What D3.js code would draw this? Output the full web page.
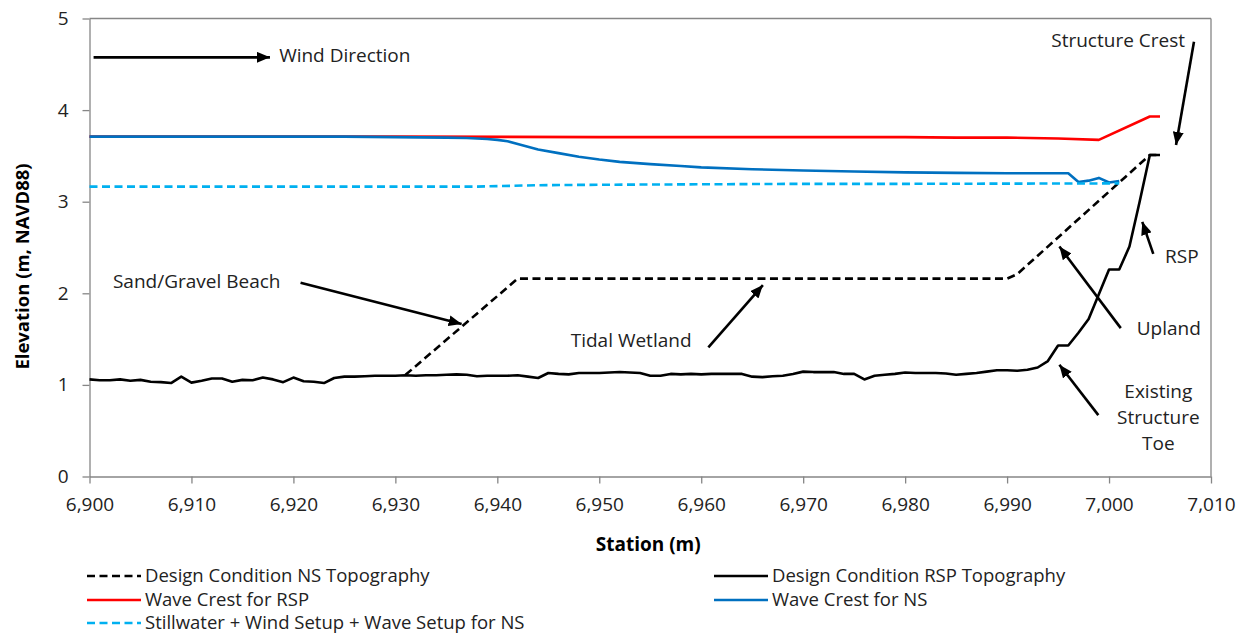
<!DOCTYPE html>
<html>
<head>
<meta charset="utf-8">
<script src="https://cdn.jsdelivr.net/npm/d3@7"></script>
<style>
  body { margin: 0; background: #fff; }
  text { font-family: "Open Sans", sans-serif; }
</style>
</head>
<body>
<div id="chart"></div>
<script>
// station grid of the surveyed RSP profile (every metre)
var rspStation = d3.range(6900, 7006);
var rspElev = [
  1.06, 1.05, 1.05, 1.06, 1.045, 1.055, 1.035, 1.03, 1.02, 1.09,
  1.025, 1.045, 1.07, 1.07, 1.035, 1.055, 1.05, 1.08, 1.06, 1.03,
  1.08, 1.04, 1.035, 1.02, 1.075, 1.09, 1.09, 1.095, 1.10, 1.10,
  1.10, 1.105, 1.10, 1.105, 1.105, 1.11, 1.115, 1.11, 1.095, 1.10,
  1.10, 1.10, 1.105, 1.09, 1.075, 1.13, 1.12, 1.115, 1.13, 1.13,
  1.13, 1.135, 1.14, 1.135, 1.13, 1.10, 1.10, 1.12, 1.115, 1.12,
  1.115, 1.12, 1.12, 1.12, 1.12, 1.09, 1.085, 1.095, 1.10, 1.12,
  1.145, 1.14, 1.14, 1.14, 1.12, 1.12, 1.06, 1.10, 1.11, 1.12,
  1.135, 1.13, 1.13, 1.13, 1.125, 1.11, 1.12, 1.13, 1.145, 1.16,
  1.16, 1.155, 1.165, 1.19, 1.26, 1.43, 1.43, 1.57, 1.72, 1.99,
  2.26, 2.26, 2.51, 3.0, 3.51, 3.51
];

var nsStation = [6931, 6942, 6990, 6991, 7004, 7005];
var nsElev = [1.11, 2.16, 2.16, 2.21, 3.51, 3.51];

var crestRspStation = [6900, 6930, 6950, 6960, 6980, 6985, 6990, 6995, 6999, 7004, 7005];
var crestRspElev = [3.71, 3.71, 3.705, 3.705, 3.705, 3.70, 3.70, 3.69, 3.675, 3.93, 3.93];

var crestNsStation = [6900, 6925, 6930, 6935, 6937, 6939, 6940, 6941, 6942, 6943, 6944, 6946, 6948,
  6950, 6952, 6955, 6958, 6960, 6965, 6970, 6975, 6980, 6985, 6990, 6996, 6997, 6998, 6999, 7000, 7001];
var crestNsElev = [3.71, 3.71, 3.705, 3.70, 3.695, 3.685, 3.675, 3.66, 3.63, 3.60, 3.57, 3.53, 3.49,
  3.46, 3.435, 3.41, 3.39, 3.375, 3.355, 3.34, 3.33, 3.32, 3.315, 3.31, 3.31, 3.215, 3.23, 3.26, 3.21, 3.225];

var swlStation = [6900, 6938, 6944, 6950, 6960, 6970, 6980, 7001];
var swlElev = [3.165, 3.165, 3.18, 3.185, 3.19, 3.195, 3.195, 3.20];

var xTicks = [6900, 6910, 6920, 6930, 6940, 6950, 6960, 6970, 6980, 6990, 7000, 7010];
var yTicks = [0, 1, 2, 3, 4, 5];

// series in drawing order, styling kept apart from the values
var series = [
  {name: "Design Condition NS Topography", xs: nsStation, ys: nsElev, color: "#000", dash: "8,4.5", col: 0, row: 0},
  {name: "Design Condition RSP Topography", xs: rspStation, ys: rspElev, color: "#000", dash: null, col: 1, row: 0},
  {name: "Wave Crest for RSP", xs: crestRspStation, ys: crestRspElev, color: "#ff0000", dash: null, col: 0, row: 1},
  {name: "Wave Crest for NS", xs: crestNsStation, ys: crestNsElev, color: "#0070c0", dash: null, col: 1, row: 1},
  {name: "Stillwater + Wind Setup + Wave Setup for NS", xs: swlStation, ys: swlElev, color: "#00b0f0", dash: "8,4.5", col: 0, row: 2}
];

// callouts, positioned in data units (station, elevation)
var notes = [
  {lines: ["Wind Direction"], tx: 6918.6, ty: 4.52, anchor: "start", from: [6900.4, 4.576], to: [6917.7, 4.576]},
  {lines: ["Structure Crest"], tx: 7007.45, ty: 4.69, anchor: "end", from: [7008.33, 4.747], to: [7006.57, 3.62]},
  {lines: ["RSP"], tx: 7005.5, ty: 2.33, anchor: "start", from: [7004.34, 2.43], to: [7003.26, 2.78]},
  {lines: ["Upland"], tx: 7002.72, ty: 1.545, anchor: "start", from: [7001.15, 1.62], to: [6995.13, 2.51]},
  {lines: ["Existing", "Structure", "Toe"], tx: 7004.83, ty: 0.854, anchor: "middle", from: [6998.95, 0.67], to: [6995.13, 1.22]},
  {lines: ["Sand/Gravel Beach"], tx: 6902.3, ty: 2.055, anchor: "start", from: [6920.7, 2.116], to: [6936.5, 1.665]},
  {lines: ["Tidal Wetland"], tx: 6947.2, ty: 1.41, anchor: "start", from: [6960.7, 1.41], to: [6966.05, 2.09]}
];

var margin = {top: 18.5, right: 36, bottom: 160.5, left: 89.5},
    width = 1247 - margin.left - margin.right,
    height = 637 - margin.top - margin.bottom;

var svgRoot = d3.select("#chart")
  .append("svg")
  .attr("width", 1247)
  .attr("height", 637);

svgRoot.append("defs").append("marker")
  .attr("id", "head")
  .attr("markerUnits", "userSpaceOnUse")
  .attr("viewBox", "0 0 13 11")
  .attr("refX", 13).attr("refY", 5.5)
  .attr("markerWidth", 13).attr("markerHeight", 11)
  .attr("orient", "auto")
  .append("path")
  .attr("d", "M0,0 L13,5.5 L0,11 Z")
  .attr("fill", "#000");

var svg = svgRoot.append("g")
  .attr("transform", "translate(" + margin.left + "," + margin.top + ")");

var x = d3.scaleLinear().domain([6900, 7010]).range([0, width]);
var y = d3.scaleLinear().domain([0, 5]).range([height, 0]);

var axisGrey = "#868686";

// frame top and right
svg.append("line").attr("x1", 0).attr("x2", width).attr("y1", 0).attr("y2", 0)
  .attr("stroke", axisGrey).attr("stroke-width", 1.3);
svg.append("line").attr("x1", width).attr("x2", width).attr("y1", 0).attr("y2", height)
  .attr("stroke", axisGrey).attr("stroke-width", 1.3);

var xAxis = svg.append("g")
  .attr("transform", "translate(0," + height + ")")
  .call(d3.axisBottom(x).tickValues(xTicks).tickFormat(d3.format(",")).tickSize(7).tickSizeOuter(0).tickPadding(14));

var yAxis = svg.append("g")
  .call(d3.axisLeft(y).tickValues(yTicks).tickFormat(d3.format("d")).tickSize(7).tickSizeOuter(0).tickPadding(14));

[xAxis, yAxis].forEach(function(g) {
  g.selectAll("path, line").attr("stroke", axisGrey).attr("stroke-width", 1.3);
  g.selectAll("text").style("font-size", "19px").attr("fill", "#222");
});

// axis titles
svg.append("text")
  .attr("x", x(6954.8))
  .attr("y", height + 74)
  .attr("text-anchor", "middle")
  .style("font-size", "19px").style("font-weight", "bold")
  .text("Station (m)");

svg.append("text")
  .attr("transform", "translate(" + (-61) + "," + (248) + ")rotate(-90)")
  .attr("text-anchor", "middle")
  .style("font-size", "18.5px").style("font-weight", "bold")
  .text("Elevation (m, NAVD88)");

// lines
var line = d3.line()
  .x(function(d) { return x(d[0]); })
  .y(function(d) { return y(d[1]); });

series.forEach(function(s) {
  svg.append("path")
    .datum(s.xs.map(function(v, i) { return [v, s.ys[i]]; }))
    .attr("fill", "none")
    .attr("stroke", s.color)
    .attr("stroke-width", 2.6)
    .attr("stroke-linejoin", "round")
    .attr("stroke-dasharray", s.dash)
    .attr("d", line);
});

// callout arrows and labels
notes.forEach(function(n) {
  svg.append("line")
    .attr("x1", x(n.from[0])).attr("y1", y(n.from[1]))
    .attr("x2", x(n.to[0])).attr("y2", y(n.to[1]))
    .attr("stroke", "#000").attr("stroke-width", 2.6)
    .attr("marker-end", "url(#head)");
  var t = svg.append("text")
    .attr("x", x(n.tx)).attr("y", y(n.ty))
    .attr("text-anchor", n.anchor)
    .style("font-size", "19px").attr("fill", "#222");
  n.lines.forEach(function(l, i) {
    t.append("tspan").attr("x", x(n.tx)).attr("dy", i == 0 ? 0 : "1.36em").text(l);
  });
});

// legend below the plot
var legend = svgRoot.append("g");
var colX = [87, 714], rowY = [576, 600, 623];
series.forEach(function(s) {
  var lx = colX[s.col], ly = rowY[s.row];
  legend.append("line")
    .attr("x1", lx).attr("x2", lx + 54).attr("y1", ly).attr("y2", ly)
    .attr("stroke", s.color).attr("stroke-width", 2.6)
    .attr("stroke-dasharray", s.dash);
  legend.append("text")
    .attr("x", lx + 58).attr("y", ly).attr("dy", "0.35em")
    .style("font-size", "18.5px").attr("fill", "#222")
    .text(s.name);
});
</script>
</body>
</html>
